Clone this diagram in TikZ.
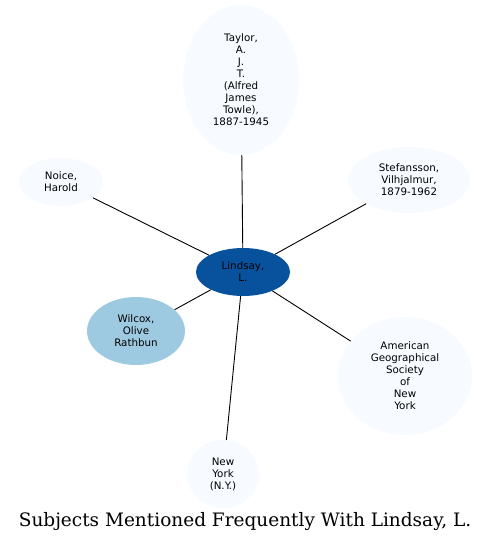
\documentclass[tikz,border=0pt]{standalone}
\usepackage{fontspec}
\newfontfamily\nodefont{DejaVu Sans}
\newfontfamily\titlefont{DejaVu Serif}
\usetikzlibrary{shapes.geometric}
\definecolor{pale}{HTML}{F7FBFF}
\definecolor{dark}{HTML}{08519C}
\definecolor{mid}{HTML}{9ECAE1}
\tikzset{
  ent/.style={ellipse, fill=pale, draw=none, inner sep=0pt, align=center,
    font=\nodefont\fontsize{10.3}{12}\selectfont, text=black},
  link/.style={draw=black, line width=0.9pt}
}
\begin{document}
\begin{tikzpicture}[x=1pt,y=-1pt]
\useasboundingbox (0,0) rectangle (492,543);
\node[ent, minimum width=116pt, minimum height=150pt] (taylor) at (241,80) {Taylor,\\A.\\J.\\T.\\(Alfred\\James\\Towle),\\1887-1945};
\node[ent, minimum width=84pt, minimum height=48pt] (noice) at (61,182) {Noice,\\Harold};
\node[ent, minimum width=122pt, minimum height=66pt] (stef) at (409,180) {Stefansson,\\Vilhjalmur,\\1879-1962};
\node[ent, fill=dark, minimum width=94pt, minimum height=48pt] (lindsay) at (243,272) {Lindsay,\\L.};
\node[ent, fill=mid, minimum width=98pt, minimum height=68pt] (wilcox) at (136,331) {Wilcox,\\Olive\\Rathbun};
\node[ent, minimum width=134pt, minimum height=118pt] (ags) at (405,376) {American\\Geographical\\Society\\of\\New\\York};
\node[ent, minimum width=72pt, minimum height=68pt] (ny) at (223,474) {New\\York\\(N.Y.)};
\draw[link] (lindsay) -- (taylor);
\draw[link] (lindsay) -- (noice);
\draw[link] (lindsay) -- (stef);
\draw[link] (lindsay) -- (wilcox);
\draw[link] (lindsay) -- (ags);
\draw[link] (lindsay) -- (ny);
\node[font=\titlefont\fontsize{18.5}{20}\selectfont, inner sep=0pt] (title) at (245,522) {Subjects Mentioned Frequently With Lindsay, L.};
\end{tikzpicture}
\end{document}
